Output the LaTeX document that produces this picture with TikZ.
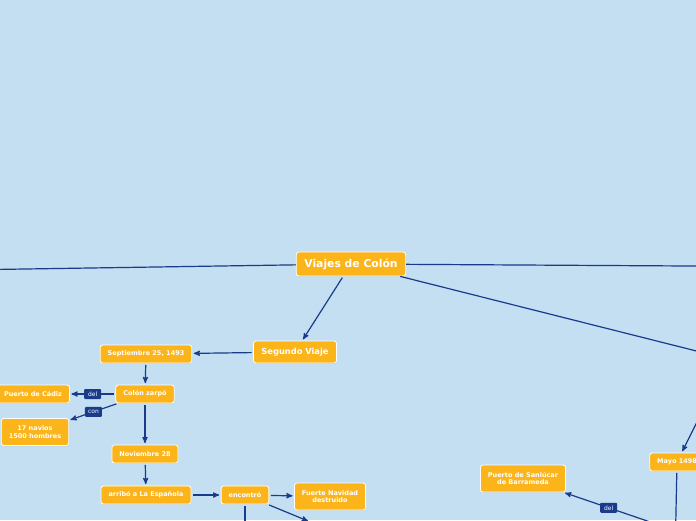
\documentclass[tikz,border=0pt]{standalone}
\usepackage{fontspec}
\setmainfont{DejaVu Sans}
\usetikzlibrary{arrows}
\usetikzlibrary{shadows}
\definecolor{fondo}{RGB}{195,223,241}
\definecolor{naranja}{RGB}{251,180,26}
\definecolor{azul}{RGB}{26,58,138}
\tikzset{
 tema/.style={draw=white, line width=0.8pt, fill=naranja, rounded corners=2.5pt, text=white,
  font=\bfseries\fontsize{6.5}{7.8}\selectfont, inner xsep=7.5pt, inner ysep=2pt,
  minimum height=18pt, align=center,
  drop shadow={opacity=0.2, shadow xshift=0.4pt, shadow yshift=-0.8pt}},
 central/.style={tema, font=\bfseries\fontsize{10.8}{12}\selectfont, minimum height=24pt, inner xsep=8pt},
 principal/.style={tema, font=\bfseries\fontsize{8.3}{10}\selectfont, minimum height=22pt, inner xsep=8pt},
 etiq/.style={fill=azul, text=white, rounded corners=1pt, font=\fontsize{6}{7}\selectfont,
  minimum width=17pt, minimum height=10pt, inner sep=1pt},
 rama/.style={azul, line width=1.2pt},
 flecha/.style={rama, ->, >=stealth', shorten >=1.5pt, shorten <=1.5pt}
}
\begin{document}
\begin{tikzpicture}[x=1pt,y=-1pt]
\useasboundingbox (0,0) rectangle (696,520);
\clip (0,0) rectangle (696,520);
\fill[fondo] (0,0) rectangle (696,520);

\node[central] (viajes) at (351,264) {Viajes de Colón};
\node[principal] (segundo) at (295,352) {Segundo Viaje};
\node[tema] (septiembre) at (146,354) {Septiembre 25, 1493};
\node[tema] (zarpo) at (145,394) {Colón zarpó};
\node[tema] (cadiz) at (33,394) {Puerto de Cádiz};
\node[tema, minimum height=27pt] (navios) at (35,432) {17 navios\\1500 hombres};
\node[tema] (noviembre) at (145,454) {Noviembre 28};
\node[tema] (arribo) at (146,495) {arribó a La Española};
\node[tema] (encontro) at (245,495) {encontró};
\node[tema, minimum height=27pt] (navidad) at (330,496.5) {Fuerte Navidad\\destruido};
\node[tema, minimum height=27pt] (sanlucar) at (523,478.5) {Puerto de Sanlúcar\\de Barrameda};
\node[tema] (mayo) at (677,462) {Mayo 1498};

\coordinate (izq) at (-40,270);
\coordinate (der) at (740,266.3);
\coordinate (tercero) at (760,367);
\coordinate (arribaMayo) at (710,396);
\coordinate (bajoMayo) at (675,560);
\coordinate (bajoEnc) at (245,560);
\coordinate (diagEnc) at (308,521);
\coordinate (origenDel) at (700,539);

\draw[rama] (viajes) -- (izq);
\draw[rama] (viajes) -- (der);
\draw[rama] (viajes) -- (tercero);
\draw[flecha] (viajes) -- (segundo);
\draw[flecha] (segundo) -- (septiembre);
\draw[flecha] (septiembre) -- (zarpo);
\draw[flecha] (zarpo) -- node[etiq] {del} (cadiz);
\draw[flecha] (zarpo) -- node[etiq] {con} (navios);
\draw[flecha] (zarpo) -- (noviembre);
\draw[flecha] (noviembre) -- (arribo);
\draw[flecha] (arribo) -- (encontro);
\draw[flecha] (encontro) -- (navidad);
\draw[flecha] (encontro) -- (bajoEnc);
\draw[flecha, shorten >=0pt] (encontro) -- (diagEnc);
\draw[flecha] (arribaMayo) -- (mayo);
\draw[flecha] (mayo) -- (bajoMayo);
\draw[flecha] (origenDel) -- node[etiq, pos=0.67] {del} (sanlucar);
\end{tikzpicture}
\end{document}
